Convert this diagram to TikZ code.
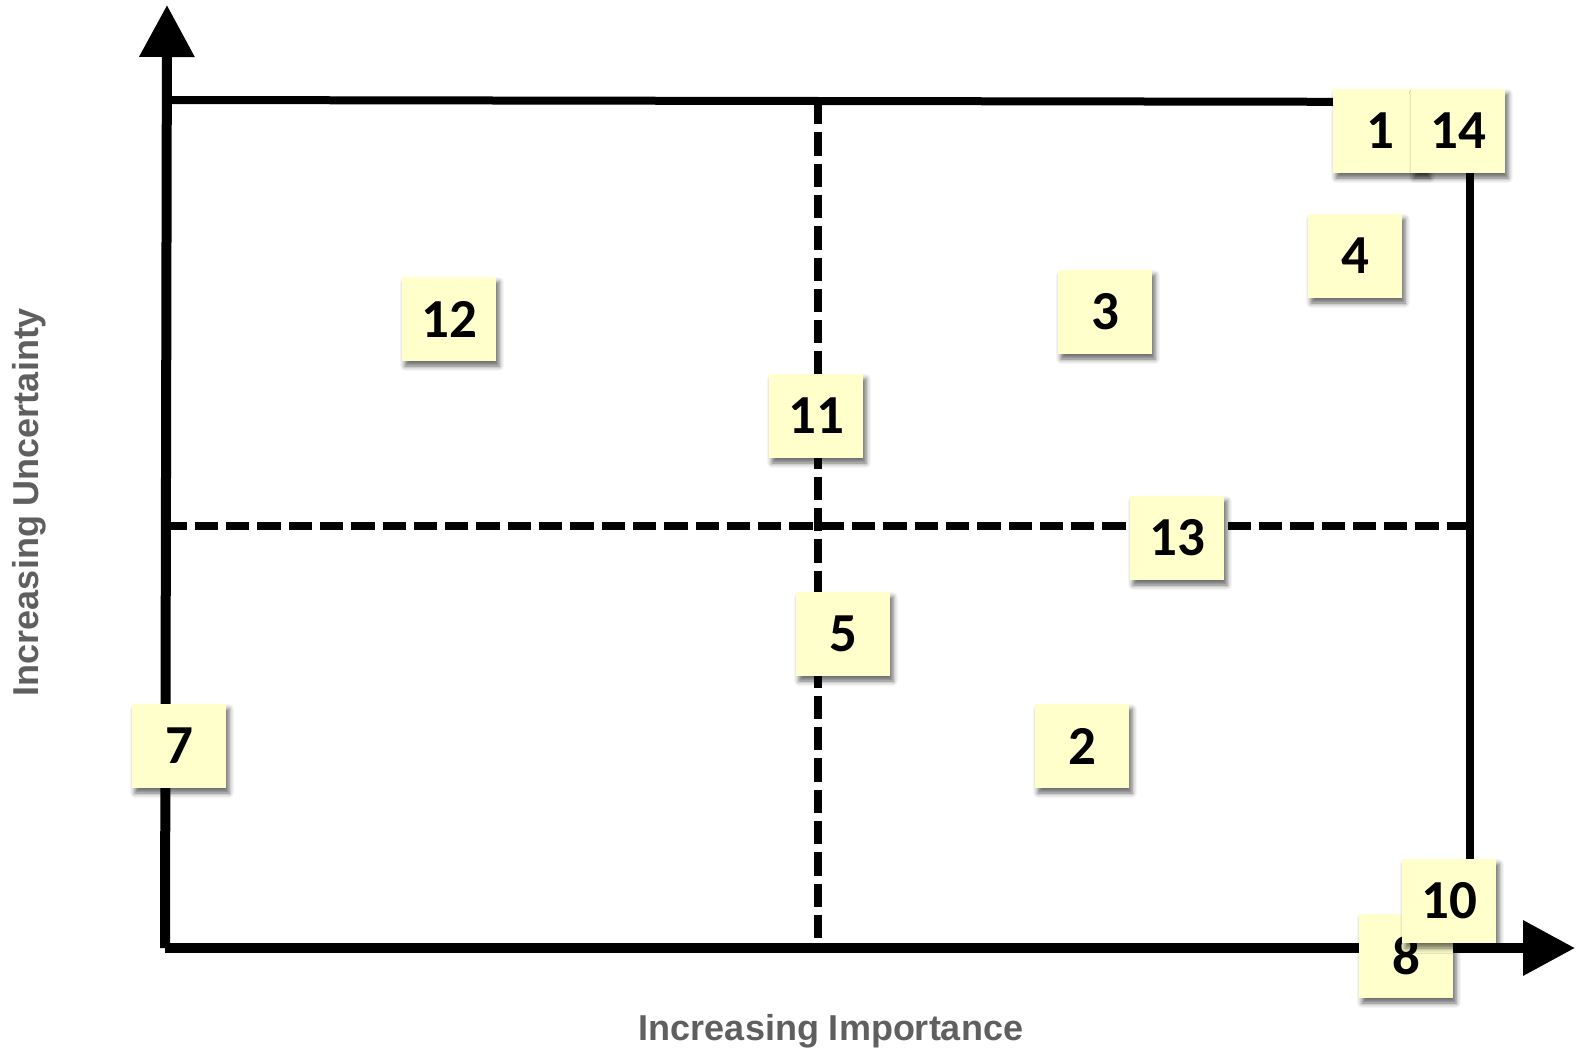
\documentclass[tikz,border=0pt]{standalone}
\usepackage{fontspec}
\setmainfont{Liberation Sans}
\newfontfamily\notefont{Carlito}
\usetikzlibrary{arrows.meta,shadows,shadows.blur}
\definecolor{notey}{HTML}{FFFFCC}
\definecolor{labgrey}{HTML}{5F5F5F}
\tikzset{
  sticky/.style={draw=none, fill=notey, minimum width=94pt, minimum height=84pt, inner sep=0pt,
    font=\notefont\bfseries\fontsize{55}{55}\selectfont,
    blur shadow={shadow xshift=3pt, shadow yshift=-5pt, shadow blur radius=5pt, shadow opacity=60}},
  axisline/.style={line width=10pt, -{Triangle[length=52pt,width=53pt]}},
  boxline/.style={line width=8pt},
  dashline/.style={line width=8pt, dash pattern=on 23.3pt off 8pt},
  axislabel/.style={text=labgrey, font=\bfseries\fontsize{36}{36}\selectfont, inner sep=0pt}
}
\begin{document}
\begin{tikzpicture}[x=1pt,y=-1pt]
\useasboundingbox (0,0) rectangle (1579,1049);
% corner coordinates
\coordinate (O) at (165,948);
\coordinate (ytip) at (167,5);
\coordinate (xtip) at (1575,948);
\coordinate (tl) at (167,100);
\coordinate (tr) at (1470,102);
\coordinate (br) at (1470,944);
\coordinate (vtop) at (818,101);
\coordinate (vbot) at (818,944);
\coordinate (hl) at (166,526);
\coordinate (hr) at (1470,526);
% frame
\draw[boxline] (tl) -- (tr);
\draw[boxline] (tr) -- (br);
\draw[dashline] (vtop) -- (vbot);
\draw[dashline] (hr) -- (hl);
\draw[axisline] (O) -- (ytip);
\draw[axisline] (O) -- (xtip);
% labels
\node[axislabel] (xlab) at (831,1031) {Increasing Importance};
\node[axislabel, rotate=90] (ylab) at (29,502) {Increasing Uncertainty};
% notes
\node[sticky] (n1) at (1380,131) {1};
\node[sticky] (n14) at (1458,131) {14};
\node[sticky] (n4) at (1355,256) {4};
\node[sticky] (n3) at (1105,312) {3};
\node[sticky] (n12) at (449,319) {12};
\node[sticky] (n11) at (816,416) {11};
\node[sticky] (n13) at (1177,538) {13};
\node[sticky] (n5) at (843,634) {5};
\node[sticky] (n7) at (179,746) {7};
\node[sticky] (n2) at (1082,746) {2};
\node[sticky] (n8) at (1406,956) {8};
\node[sticky] (n10) at (1449,901) {10};
\end{tikzpicture}
\end{document}
